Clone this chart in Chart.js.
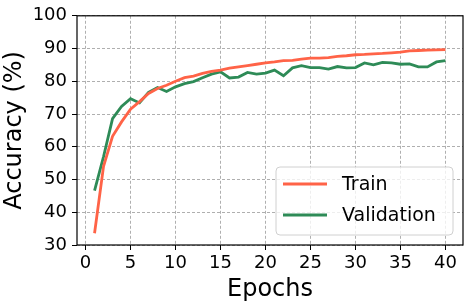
<!DOCTYPE html>
<html>
<head>
<meta charset="utf-8">
<script src="https://cdn.jsdelivr.net/npm/chart.js@4/dist/chart.umd.min.js"></script>
<style>
  html, body { margin: 0; padding: 0; background: #fff; }
  #wrap { width: 464px; height: 304px; }
</style>
</head>
<body>
<div id="wrap"><canvas id="accChart" width="464" height="304"></canvas></div>
<script>
// dados
const epochs = [1,2,3,4,5,6,7,8,9,10,11,12,13,14,15,16,17,18,19,20,
                21,22,23,24,25,26,27,28,29,30,31,32,33,34,35,36,37,38,39,40];
const trainAcc = [33.6, 54.0, 63.2, 67.6, 71.5, 73.8, 76.3, 77.8, 78.8, 80.0,
                  81.1, 81.6, 82.4, 83.0, 83.4, 84.0, 84.4, 84.8, 85.2, 85.6,
                  85.9, 86.3, 86.4, 86.8, 87.1, 87.1, 87.2, 87.6, 87.8, 88.1,
                  88.2, 88.4, 88.5, 88.7, 88.9, 89.3, 89.4, 89.5, 89.6, 89.7];
const valAcc = [46.6, 57.0, 68.6, 72.3, 74.7, 73.4, 76.6, 78.1, 76.9, 78.3,
                79.3, 79.9, 81.1, 82.2, 82.9, 81.0, 81.3, 82.7, 82.2, 82.5,
                83.4, 81.7, 84.1, 84.8, 84.2, 84.2, 83.7, 84.5, 84.1, 84.2,
                85.6, 85.0, 85.8, 85.6, 85.2, 85.3, 84.4, 84.4, 85.9, 86.3];
const xTicks = [0, 5, 10, 15, 20, 25, 30, 35, 40];
const yTicks = [30, 40, 50, 60, 70, 80, 90, 100];

const FONT = "'DejaVu Sans', sans-serif";
const trainColor = '#ff6347';
const valColor = '#2e8b57';

// moldura preta + legenda no canto inferior direito
const framePlugin = {
  id: 'frame',
  afterDatasetsDraw(chart) {
    const { ctx, chartArea: a } = chart;
    ctx.save();
    ctx.strokeStyle = '#000';
    ctx.lineWidth = 1.2;
    ctx.strokeRect(a.left, a.top, a.right - a.left, a.bottom - a.top);

    // legenda
    const bx = 276, by = 167, bw = 177, bh = 68, r = 4;
    ctx.beginPath();
    ctx.roundRect(bx, by, bw, bh, r);
    ctx.fillStyle = 'rgba(255,255,255,0.8)';
    ctx.fill();
    ctx.strokeStyle = '#d0d0d0';
    ctx.lineWidth = 1;
    ctx.stroke();

    const items = [['Train', trainColor, 184], ['Validation', valColor, 215]];
    ctx.font = '19px ' + FONT;
    ctx.textBaseline = 'middle';
    items.forEach(([txt, col, y]) => {
      ctx.beginPath();
      ctx.moveTo(283, y);
      ctx.lineTo(327, y);
      ctx.strokeStyle = col;
      ctx.lineWidth = 2.8;
      ctx.stroke();
      ctx.fillStyle = '#000';
      ctx.fillText(txt, 342, y + 1);
    });
    ctx.restore();
  }
};

new Chart(document.getElementById('accChart').getContext('2d'), {
  type: 'line',
  data: {
    datasets: [
      {
        label: 'Train',
        data: epochs.map((e, i) => ({ x: e, y: trainAcc[i] })),
        borderColor: trainColor,
        borderWidth: 2.8,
        pointRadius: 0,
        tension: 0
      },
      {
        label: 'Validation',
        data: epochs.map((e, i) => ({ x: e, y: valAcc[i] })),
        borderColor: valColor,
        borderWidth: 2.8,
        pointRadius: 0,
        tension: 0
      }
    ]
  },
  options: {
    responsive: false,
    animation: false,
    layout: { padding: { top: 6, right: 1, left: 0, bottom: 0 } },
    plugins: {
      legend: { display: false },
      tooltip: { enabled: false }
    },
    scales: {
      x: {
        type: 'linear',
        min: -0.95,
        max: 41.95,
        afterBuildTicks: s => { s.ticks = xTicks.map(v => ({ value: v })); },
        afterFit: s => { s.height = 59; },
        ticks: { color: '#000', font: { family: FONT, size: 18 }, padding: 3, maxRotation: 0 },
        grid: { color: '#9a9a9a', lineWidth: 0.8, tickColor: '#000', tickLength: 5, tickWidth: 1 },
        border: { display: false, dash: [3, 2] },
        title: { display: true, text: 'Epochs', color: '#000', font: { family: FONT, size: 24 }, padding: { top: 0, bottom: 0 } }
      },
      y: {
        min: 30,
        max: 100,
        afterBuildTicks: s => { s.ticks = yTicks.map(v => ({ value: v })); },
        afterFit: s => { s.width = 77; },
        ticks: { color: '#000', font: { family: FONT, size: 18 }, padding: 5 },
        grid: { color: '#9a9a9a', lineWidth: 0.8, tickColor: '#000', tickLength: 5, tickWidth: 1 },
        border: { display: false, dash: [3, 2] },
        title: { display: true, text: 'Accuracy (%)', color: '#000', font: { family: FONT, size: 24 }, padding: { top: 0, bottom: 0 } }
      }
    }
  },
  plugins: [framePlugin]
});
</script>
</body>
</html>
